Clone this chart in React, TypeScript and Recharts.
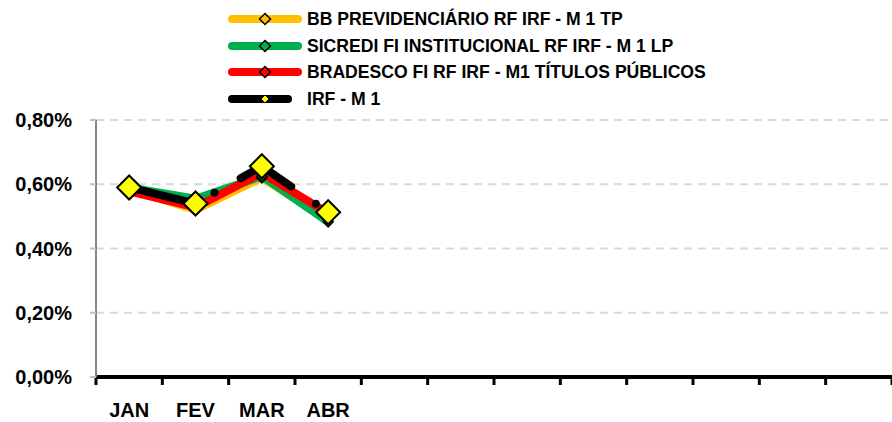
import React from 'react';
import { LineChart, Line, XAxis, YAxis, CartesianGrid, Legend } from 'recharts';

const months = ['JAN', 'FEV', 'MAR', 'ABR'];
const monthSlots = 12;
const bb = [0.585, 0.52, 0.62, 0.49];
const sicredi = [0.59, 0.555, 0.625, 0.483];
const bradesco = [0.578, 0.528, 0.635, 0.51];
const irfm1 = [0.59, 0.54, 0.656, 0.513];
const yTicks = [0, 0.2, 0.4, 0.6, 0.8];

const seriesNames = [
  'BB PREVIDENCIÁRIO RF IRF - M 1 TP',
  'SICREDI FI INSTITUCIONAL RF IRF - M 1 LP',
  'BRADESCO FI RF IRF - M1 TÍTULOS PÚBLICOS',
  'IRF - M 1',
];
const seriesKeys = ['bb', 'sicredi', 'bradesco', 'irfm1'];
const seriesColors = ['#FFC000', '#00B050', '#FF0000', '#000000'];
const markerFills = ['#FFC000', '#00B050', '#FF0000', '#FFFF00'];

const data = months.map((m, i) => ({
  x: i + 0.5,
  month: m,
  bb: bb[i],
  sicredi: sicredi[i],
  bradesco: bradesco[i],
  irfm1: irfm1[i],
}));

const FONT = "'Liberation Sans', Arial, sans-serif";

const diamond = (cx: number, cy: number, r: number) =>
  `M${cx},${cy - r} L${cx + r},${cy} L${cx},${cy + r} L${cx - r},${cy} Z`;

const makeDot = (fill: string, r: number, sw: number) => (p: any) => {
  if (p.cx == null || p.cy == null) return <g key={`d${p.index}`} />;
  return (
    <path
      key={`d${p.index}`}
      d={diamond(p.cx, p.cy, r)}
      fill={fill}
      stroke="#000"
      strokeWidth={sw}
      strokeLinejoin="miter"
    />
  );
};

const MonthTick = (p: any) => {
  const v = Number(p.payload?.value);
  const label = months[v];
  if (label == null) return <g />;
  const half = Number(p.width) / monthSlots / 2;
  return (
    <text
      x={p.x + half}
      y={p.y}
      dy="0.71em"
      textAnchor="middle"
      fontFamily={FONT}
      fontSize={20}
      fontWeight={700}
      fill="#000"
    >
      {label}
    </text>
  );
};

const LegendContent = () => {
  const rowsY = [19, 46, 72, 99];
  return (
    <svg width={892} height={115} style={{ display: 'block' }}>
      {seriesNames.map((name, i) => {
        const y = rowsY[i];
        const isBlack = i === 3;
        return (
          <g key={name}>
            <line
              x1={232}
              x2={isBlack ? 288 : 298}
              y1={y}
              y2={y}
              stroke={seriesColors[i]}
              strokeWidth={8}
              strokeLinecap="round"
            />
            <path
              d={diamond(265, y, isBlack ? 4 : 5.5)}
              fill={markerFills[i]}
              stroke="#000"
              strokeWidth={isBlack ? 1 : 1.5}
            />
            <text
              x={307}
              y={y + 6.3}
              fontFamily={FONT}
              fontSize={17.6}
              fontWeight={700}
              fill="#000"
            >
              {name}
            </text>
          </g>
        );
      })}
    </svg>
  );
};

export default function App() {
  const boundaryTicks = Array.from({ length: monthSlots + 1 }, (_, i) => i);
  return (
    <div style={{ position: 'absolute', left: 0, top: 0, fontFamily: FONT }}>
      <LineChart
        width={892}
        height={422}
        data={data}
        margin={{ top: 120, right: 0, bottom: 0, left: 0 }}
      >
        <CartesianGrid
          vertical={false}
          stroke="#D9D9D9"
          strokeWidth={2}
          strokeDasharray="8 6"
        />
        <XAxis
          dataKey="x"
          type="number"
          domain={[0, monthSlots]}
          ticks={boundaryTicks}
          interval={0}
          height={45}
          axisLine={{ stroke: '#000', strokeWidth: 4 }}
          tickLine={{ stroke: '#000', strokeWidth: 3 }}
          tickSize={8}
          tickMargin={18}
          tick={<MonthTick />}
        />
        <YAxis
          type="number"
          domain={[0, 0.8]}
          ticks={yTicks}
          interval={0}
          width={96}
          axisLine={{ stroke: '#868686', strokeWidth: 2 }}
          tickLine={{ stroke: '#BFBFBF', strokeWidth: 2 }}
          tickSize={6}
          tickMargin={18}
          tickFormatter={(v: number) => v.toFixed(2).replace('.', ',') + '%'}
          tick={{ fill: '#000', fontSize: 20, fontWeight: 700, fontFamily: FONT }}
        />
        <Legend
          layout="horizontal"
          verticalAlign="middle"
          align="center"
          wrapperStyle={{ top: 0, left: 0, width: 892, height: 115 }}
          content={() => <LegendContent />}
        />
        {seriesKeys.map((k, i) => (
          <Line
            key={k}
            dataKey={k}
            name={seriesNames[i]}
            type="linear"
            stroke={seriesColors[i]}
            strokeWidth={8}
            strokeLinejoin="round"
            strokeLinecap="round"
            strokeDasharray={i === 3 ? '60 30 0 30' : undefined}
            dot={i === 3 ? makeDot(markerFills[i], 12, 2) : makeDot(markerFills[i], 5, 1.5)}
            activeDot={false}
            isAnimationActive={false}
          />
        ))}
      </LineChart>
    </div>
  );
}
